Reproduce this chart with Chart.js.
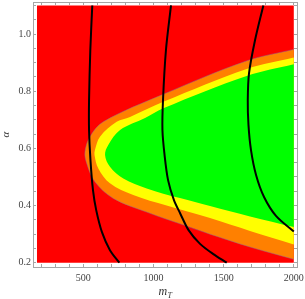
<!DOCTYPE html>
<html><head><meta charset="utf-8">
<script src="https://cdn.jsdelivr.net/npm/chart.js@4.4.0/dist/chart.umd.min.js"></script>
<style>html,body{margin:0;padding:0;background:#fff;}</style>
</head><body>
<canvas id="c" width="305" height="299"></canvas>
<script>
// ---- data ----
const xTicks = [200,300,400,500,600,700,800,900,1000,1100,1200,1300,1400,1500,1600,1700,1800,1900,2000];
const xTickLabels = {500:'500',1000:'1000',1500:'1500',2000:'2000'};
const alphaTicks = [0.2,0.25,0.3,0.35,0.4,0.45,0.5,0.55,0.6,0.65,0.7,0.75,0.8,0.85,0.9,0.95,1.0,1.05,1.1];
const alphaTickLabels = {'0.20':'0.2','0.40':'0.4','0.60':'0.6','0.80':'0.8','1.00':'1.0'};

const redX = [170,2000,2000,170];
const redA = [0.2,0.2,1.1,1.1];

const orangeX = [2000,1664,1070,643,548,512,524,583,714,952,1237,1403,1688,2000];
const orangeA = [0.946,0.906,0.789,0.693,0.641,0.588,0.548,0.483,0.425,0.377,0.328,0.300,0.255,0.212];

const yellowX = [2000,1664,1070,833,738,619,583,580,607,690,856,1094,1403,1688,2000];
const yellowA = [0.918,0.878,0.763,0.710,0.693,0.641,0.594,0.577,0.530,0.478,0.437,0.400,0.356,0.311,0.264];

const greenX = [2000,1664,1070,940,762,678,655,690,785,952,1189,1403,1688,2000];
const greenA = [0.894,0.853,0.740,0.706,0.664,0.612,0.577,0.536,0.495,0.460,0.426,0.398,0.362,0.325];

const curve1X = [564,550,541,541,551,569,592,633,690,757];
const curve1A = [1.1,0.944,0.769,0.664,0.559,0.454,0.384,0.307,0.244,0.2];
const curve2X = [1125,1089,1068,1064,1079,1104,1146,1189,1250,1332,1424,1522];
const curve2A = [1.1,0.944,0.769,0.664,0.577,0.489,0.419,0.374,0.314,0.266,0.231,0.2];
const curve3X = [1783,1724,1681,1672,1677,1695,1731,1788,1873,2000];
const curve3A = [1.1,0.979,0.863,0.769,0.682,0.594,0.507,0.430,0.364,0.309];

const pts = (xs, as) => xs.map((x,i)=>({x:x, y:as[i]}));

function region(xs, as, color, order, tension, border) {
  return {data: pts(xs, as), showLine:true, fill:'shape', backgroundColor:color,
    borderColor: border || 'rgba(0,0,0,0)', borderWidth: border ? 0.8 : 0,
    pointRadius:0, tension:tension, order:order};
}
function curve(xs, as) {
  return {data: pts(xs, as), showLine:true, fill:false, borderColor:'#000', borderWidth:2,
    pointRadius:0, tension:0.3, order:1};
}

const XMIN = 141.6, XMAX = 2022.8, AMIN = 0.185, AMAX = 1.112;
const frameColor = '#a6a6a6';
const labelFont = {family:'"Liberation Serif", "DejaVu Serif", serif', size:10};

function zeroPad(s){ s.paddingLeft=0; s.paddingRight=0; s.paddingTop=0; s.paddingBottom=0; }
const gridOpts = {drawOnChartArea:false, drawTicks:true, tickLength:-3, color:frameColor, tickColor:frameColor, lineWidth:1};
const borderOpts = {display:true, color:frameColor, width:1};

const mtPlugin = {
  id:'mtLabel',
  afterDraw(chart){
    const {ctx, chartArea} = chart;
    const cx = (chartArea.left + chartArea.right)/2;
    ctx.save();
    ctx.fillStyle = '#333';
    ctx.textBaseline = 'alphabetic';
    ctx.font = 'italic 12px "Liberation Serif"';
    const mw = ctx.measureText('m').width;
    ctx.font = 'italic 8px "Liberation Serif"';
    const tw = ctx.measureText('T').width;
    const x0 = cx - (mw + tw)/2;
    ctx.font = 'italic 12px "Liberation Serif"';
    ctx.fillText('m', x0, 295);
    ctx.font = 'italic 8px "Liberation Serif"';
    ctx.fillText('T', x0 + mw + 0.5, 298);
    ctx.restore();
  }
};

new Chart(document.getElementById('c'), {
  type:'scatter',
  data:{datasets:[
    region(redX, redA, '#ff0000', 5, 0),
    region(orangeX, orangeA, '#ff8000', 4, 0.35, 'rgba(140,110,150,0.6)'),
    region(yellowX, yellowA, '#ffff00', 3, 0.35),
    region(greenX, greenA, '#00ff00', 2, 0.35),
    curve(curve1X, curve1A),
    curve(curve2X, curve2A),
    curve(curve3X, curve3A)
  ]},
  options:{
    responsive:false, animation:false, devicePixelRatio:1,
    layout:{padding:{left:0,right:8,top:2,bottom:0}},
    plugins:{legend:{display:false}, tooltip:{enabled:false}},
    scales:{
      x:{type:'linear', position:'bottom', min:XMIN, max:XMAX,
        afterBuildTicks:(s)=>{ s.ticks = xTicks.map(v=>({value:v})); },
        afterFit:(s)=>{ s.height = 32; zeroPad(s); },
        ticks:{autoSkip:false, maxRotation:0, padding:8, color:'#444', font:labelFont,
          callback:(v)=> xTickLabels[v] || ''},
        grid:gridOpts, border:borderOpts},
      x2:{type:'linear', position:'top', min:XMIN, max:XMAX,
        afterBuildTicks:(s)=>{ s.ticks = xTicks.map(v=>({value:v})); },
        afterFit:(s)=>{ s.height = 0; zeroPad(s); },
        ticks:{display:false}, grid:gridOpts, border:borderOpts},
      y:{type:'linear', position:'left', min:AMIN, max:AMAX,
        afterBuildTicks:(s)=>{ s.ticks = alphaTicks.map(v=>({value:v})); },
        afterFit:(s)=>{ s.width = 33; zeroPad(s); },
        ticks:{autoSkip:false, padding:5, color:'#444', font:labelFont,
          callback:(v)=> alphaTickLabels[Number(v).toFixed(2)] || ''},
        title:{display:true, text:'α', color:'#333', padding:0,
          font:{family:'"Liberation Serif", serif', size:11, style:'italic'}},
        grid:gridOpts, border:borderOpts},
      y2:{type:'linear', position:'right', min:AMIN, max:AMAX,
        afterBuildTicks:(s)=>{ s.ticks = alphaTicks.map(v=>({value:v})); },
        afterFit:(s)=>{ s.width = 0; zeroPad(s); },
        ticks:{display:false}, grid:gridOpts, border:borderOpts}
    }
  },
  plugins:[mtPlugin]
});
</script>
</body></html>
